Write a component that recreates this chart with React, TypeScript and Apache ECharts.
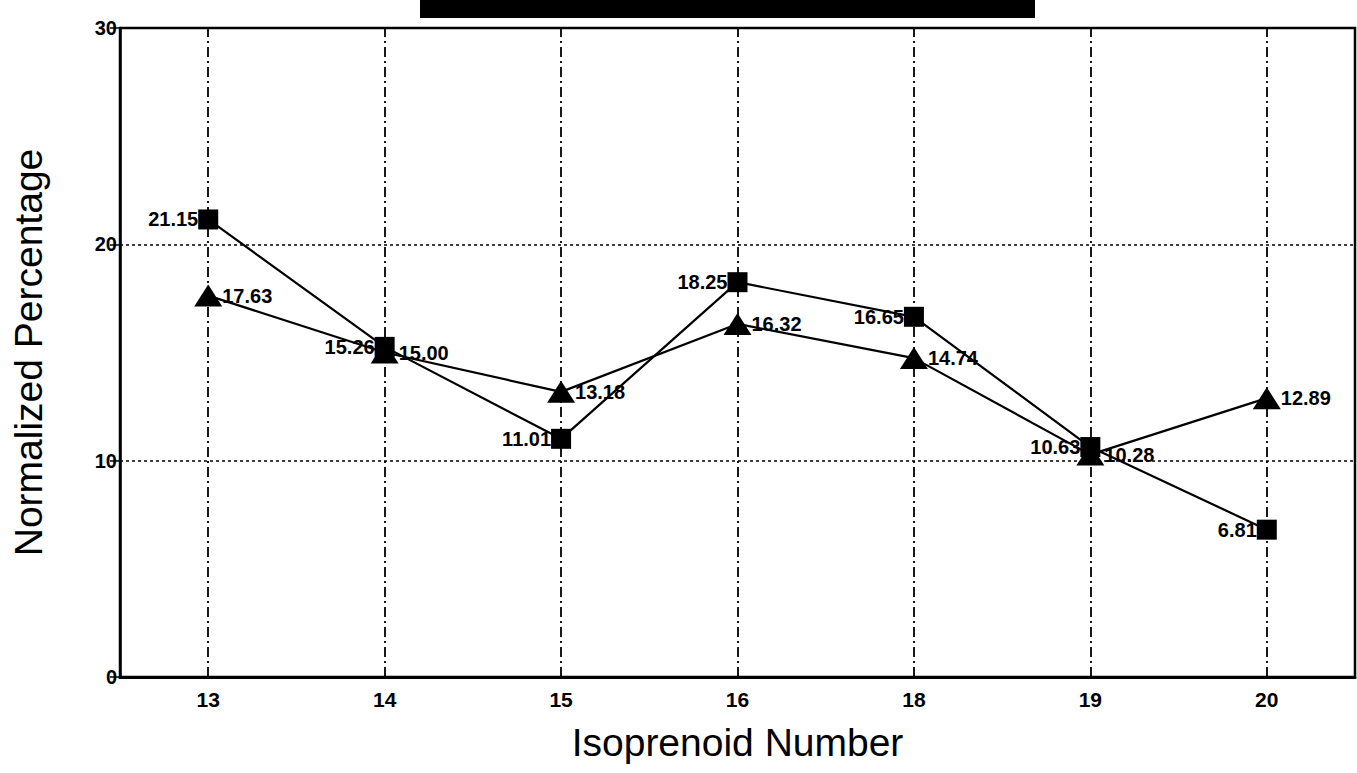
import React, { useEffect, useRef } from "react";
import * as echarts from "echarts";

const categories = ["13", "14", "15", "16", "18", "19", "20"];
const squareValues = [21.15, 15.26, 11.01, 18.25, 16.65, 10.63, 6.81];
const triangleValues = [17.63, 15.0, 13.18, 16.32, 14.74, 10.28, 12.89];
const yTicks = [0, 10, 20, 30];

export default function App() {
  const ref = useRef<HTMLDivElement>(null);
  useEffect(() => {
    if (!ref.current) return;
    const chart = echarts.init(ref.current, undefined, { renderer: "svg" });
    const font = "Liberation Sans, Arial, sans-serif";
    chart.setOption({
      animation: false,
      backgroundColor: "#ffffff",
      grid: {
        left: 120,
        right: 2,
        top: 28,
        bottom: 96,
        show: true,
        borderColor: "#000",
        borderWidth: 2.5,
        backgroundColor: "transparent",
      },
      graphic: [
        {
          type: "rect",
          shape: { x: 420, y: 0, width: 615, height: 18 },
          style: { fill: "#000" },
        },
      ],
      xAxis: {
        type: "category",
        data: categories,
        boundaryGap: true,
        name: "Isoprenoid Number",
        nameLocation: "middle",
        nameGap: 46,
        nameTextStyle: { fontFamily: font, fontSize: 39, color: "#000" },
        axisLine: { lineStyle: { color: "#000", width: 3 } },
        axisTick: { alignWithLabel: true, length: 10, lineStyle: { color: "#000", width: 1.5 } },
        axisLabel: { fontFamily: font, fontSize: 21, fontWeight: "bold", color: "#000", margin: 12 },
        splitLine: { show: false },
      },
      yAxis: {
        type: "value",
        min: 0,
        max: 30,
        interval: 10,
        name: "Normalized Percentage",
        nameLocation: "middle",
        nameGap: 72,
        nameRotate: 90,
        nameTextStyle: { fontFamily: font, fontSize: 39, color: "#000" },
        axisLine: { show: true, lineStyle: { color: "#000", width: 2.5 } },
        axisTick: { show: true, length: 10, lineStyle: { color: "#000", width: 1.5 } },
        axisLabel: {
          fontFamily: font,
          fontSize: 20,
          fontWeight: "bold",
          color: "#000",
          margin: 3,
          formatter: (v: number) => (yTicks.includes(v) ? String(v) : ""),
        },
        splitLine: { show: true, lineStyle: { color: "#000", type: [3, 3], width: 1.6 } },
      },
      series: [
        {
          type: "line",
          data: squareValues,
          symbol: "rect",
          symbolSize: 20,
          itemStyle: { color: "#000" },
          lineStyle: { color: "#000", width: 2.2 },
          label: {
            show: true,
            position: "left",
            distance: 0,
            formatter: (p: any) => p.value.toFixed(2),
            fontFamily: font,
            fontSize: 20,
            fontWeight: "bold",
            color: "#000",
          },
          markLine: {
            silent: true,
            symbol: ["none", "none"],
            label: { show: false },
            lineStyle: { color: "#000", type: [10, 4, 2, 4], width: 1.8 },
            data: categories.map((c) => ({ xAxis: c })),
          },
          z: 3,
        },
        {
          type: "line",
          data: triangleValues,
          symbol: "triangle",
          symbolSize: [28, 22],
          itemStyle: { color: "#000" },
          lineStyle: { color: "#000", width: 2.2 },
          label: {
            show: true,
            position: "right",
            distance: 0,
            formatter: (p: any) => p.value.toFixed(2),
            fontFamily: font,
            fontSize: 20,
            fontWeight: "bold",
            color: "#000",
          },
          z: 3,
        },
      ],
    });
    return () => chart.dispose();
  }, []);
  return (
    <div
      ref={ref}
      style={{ position: "fixed", left: 0, top: 0, width: 1357, height: 773 }}
    />
  );
}
